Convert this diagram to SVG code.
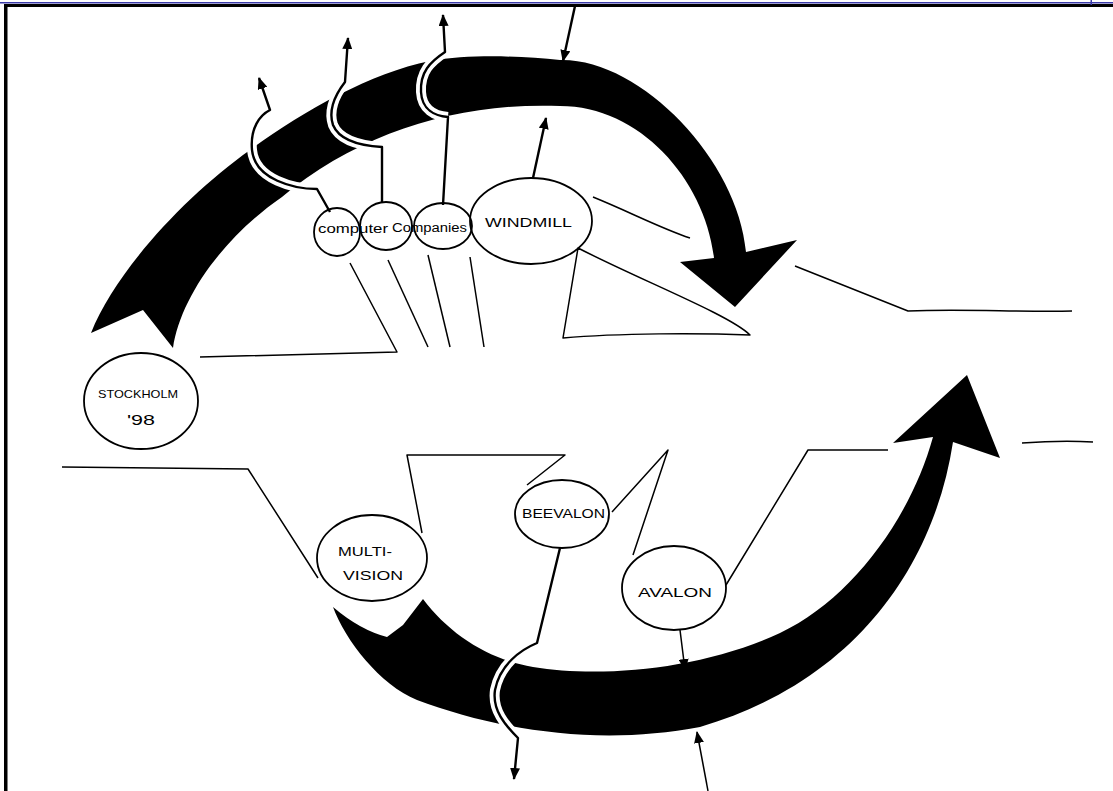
<svg xmlns="http://www.w3.org/2000/svg" width="1113" height="791" viewBox="0 0 1113 791">
<style>
.band{fill:#000}
.gap{fill:none;stroke:#fff;stroke-width:10;stroke-linecap:butt}
.con{fill:none;stroke:#000;stroke-width:2.4;stroke-linejoin:round}
.thin{fill:none;stroke:#000;stroke-width:1.5;stroke-linejoin:round}
.node{fill:none;stroke:#000;stroke-width:1.8}
.lbl{font-family:"Liberation Sans",Arial,sans-serif;font-size:12px;fill:#000}
</style>
<defs>
<marker id="ah" viewBox="0 0 12 10" refX="11" refY="5" markerWidth="12" markerHeight="10" markerUnits="userSpaceOnUse" orient="auto">
<path d="M0,0 L12,5 L0,10 Z" fill="#000"/>
</marker>
</defs>
<rect width="1113" height="791" fill="#fff"/>
<g id="frame">
<rect x="0" y="2" width="1113" height="1.5" fill="#3a3aa8"/>
<rect x="4" y="4" width="1109" height="3" fill="#000"/>
<rect x="4" y="4" width="3.5" height="787" fill="#000"/>
<rect x="1090.5" y="0" width="1.5" height="5" fill="#3a3aa8"/>
</g>
<g id="bands">
<path class="band" d="M91,333 C115,272 185,196 250,150 C300,113 370,73 430,61 C470,54 520,56 560,60 C640,58 738,160 746,252 L797,240 L735,307 L680,262 L714,258 C705,180 640,106 560,106 C460,102 360,132 282,197 C220,240 180,300 173,348 L143,310 Z"/>
<path class="band" d="M333,607 Q360,630 387,637 L403,625 L423,599 C450,635 490,660 533,667 C600,678 700,670 780,633 C850,600 910,520 933,437 L893,443 L967,375 L1000,458 L953,442 C935,560 860,680 700,727 C600,746 500,731 417,700 C380,685 345,640 333,607 Z"/>
</g>
<g id="connectors">
<path class="gap" d="M317,189 C295,189 255,180 252,150 C250,128 260,115 270,110"/>
<path class="gap" d="M382,147 C365,146 340,142 333,125 C328,110 335,95 345,82"/>
<path class="gap" d="M448,117 C435,116 422,110 421,92 C420,72 430,62 445,52"/>
<path class="gap" d="M537,643 C520,650 500,665 495,690 C492,710 505,725 518,738"/>
<path class="con" marker-end="url(#ah)" d="M330,212 L317,189 C295,189 255,180 252,150 C250,128 260,115 270,110 L259,78"/>
<path class="con" marker-end="url(#ah)" d="M382,203 L382,147 C365,146 340,142 333,125 C328,110 335,95 345,82 L348,38"/>
<path class="con" marker-end="url(#ah)" d="M443,205 L448,117 C435,116 422,110 421,92 C420,72 430,62 445,52 L443,15"/>
<path class="con" marker-end="url(#ah)" d="M533,178 L546,118"/>
<path class="con" marker-end="url(#ah)" d="M575,6 L563,61"/>
<path class="con" marker-end="url(#ah)" d="M560,548 L537,643 C520,650 500,665 495,690 C492,710 505,725 518,738 L514,779"/>
<path class="thin" marker-end="url(#ah)" d="M680,630 L685,670"/>
<path class="thin" marker-end="url(#ah)" d="M708,791 L697,732"/>
<path class="thin" d="M200,357 L397,352 L350,263"/>
<path class="thin" d="M388,260 L428,347"/>
<path class="thin" d="M428,255 L450,347"/>
<path class="thin" d="M470,257 L484,347"/>
<path class="thin" d="M593,197 C630,212 660,228 690,238"/>
<path class="thin" d="M578,248 L563,338 C620,333 700,333 750,335 C730,315 640,280 578,248 Z"/>
<path class="thin" d="M795,266 L908,311 C960,309 1020,312 1072,311"/>
<path class="thin" d="M62,467 L248,469 L318,578"/>
<path class="thin" d="M422,533 L407,455 L565,455 L527,485"/>
<path class="thin" d="M612,512 L668,450 L633,555"/>
<path class="thin" d="M726,585 L808,450 L888,450"/>
<path class="thin" d="M1022,443 C1050,441 1075,441 1093,442"/>
</g>
<g id="node-computer">
<ellipse class="node" cx="337" cy="232" rx="23" ry="24"/>
<text class="lbl" x="318" y="233" textLength="70" lengthAdjust="spacingAndGlyphs">computer</text>
</g>
<g id="node-companies1">
<ellipse class="node" cx="386" cy="226" rx="26" ry="24"/>
</g>
<g id="node-companies2">
<ellipse class="node" cx="443" cy="226" rx="29" ry="23"/>
<text class="lbl" x="392" y="232" textLength="75" lengthAdjust="spacingAndGlyphs">Companies</text>
</g>
<g id="node-windmill">
<ellipse class="node" cx="531" cy="221" rx="61" ry="43"/>
<text class="lbl" x="485" y="227" textLength="87" lengthAdjust="spacingAndGlyphs">WINDMILL</text>
</g>
<g id="node-stockholm">
<ellipse class="node" cx="141" cy="401" rx="57" ry="48"/>
<text class="lbl" x="98" y="398" textLength="80" lengthAdjust="spacingAndGlyphs" style="font-size:11px">STOCKHOLM</text>
<text class="lbl" x="127" y="425" textLength="28" lengthAdjust="spacingAndGlyphs" style="font-size:15px">'98</text>
</g>
<g id="node-multivision">
<ellipse class="node" cx="372" cy="558" rx="55" ry="43"/>
<text class="lbl" x="338" y="556" textLength="54" lengthAdjust="spacingAndGlyphs">MULTI-</text>
<text class="lbl" x="343" y="580" textLength="60" lengthAdjust="spacingAndGlyphs">VISION</text>
</g>
<g id="node-beevalon">
<ellipse class="node" cx="562" cy="514" rx="47" ry="34"/>
<text class="lbl" x="522" y="518" textLength="83" lengthAdjust="spacingAndGlyphs">BEEVALON</text>
</g>
<g id="node-avalon">
<ellipse class="node" cx="674" cy="588" rx="52" ry="42"/>
<text class="lbl" x="638" y="597" textLength="74" lengthAdjust="spacingAndGlyphs">AVALON</text>
</g>
</svg>
